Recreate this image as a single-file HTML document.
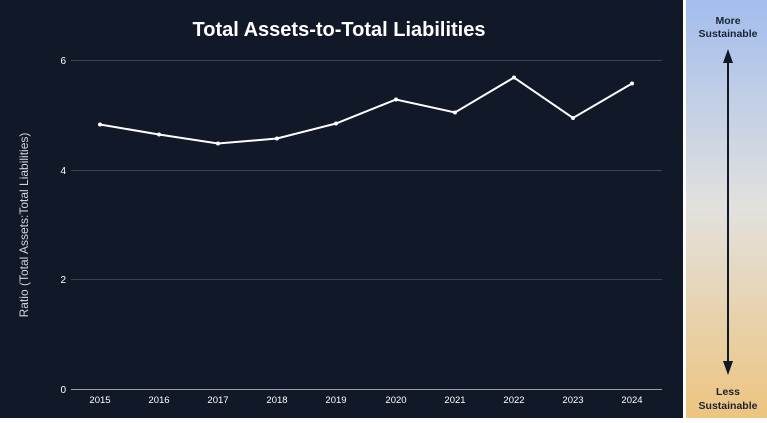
<!DOCTYPE html>
<html><head><style>
body{margin:0;width:767px;height:418px;overflow:hidden;background:#fff;font-family:"Liberation Sans",sans-serif}
</style></head><body>
<svg width="767" height="418" viewBox="0 0 767 418" xmlns="http://www.w3.org/2000/svg">
<defs><linearGradient id="g" x1="0" y1="0" x2="0" y2="1">
<stop offset="0" stop-color="#a3bdee"/><stop offset="0.5" stop-color="#e2e1dd"/><stop offset="1" stop-color="#edc47f"/></linearGradient></defs>
<rect x="0" y="0" width="683" height="418" fill="#111827"/>
<rect x="686" y="0" width="81" height="418" fill="url(#g)"/>
<text x="339" y="36" fill="#fff" font-size="20" font-weight="bold" text-anchor="middle">Total Assets-to-Total Liabilities</text>
<g stroke="#3b4250" stroke-width="1">
<line x1="71" y1="60.5" x2="662" y2="60.5"/><line x1="71" y1="170.5" x2="662" y2="170.5"/><line x1="71" y1="279.5" x2="662" y2="279.5"/></g>
<line x1="71" y1="389.5" x2="662" y2="389.5" stroke="#9aa0aa"/>
<g fill="#fff" font-size="10" text-anchor="end"><text x="66" y="64">6</text><text x="66" y="174">4</text><text x="66" y="283">2</text><text x="66" y="393">0</text></g>
<g fill="#fff" font-size="9.5" text-anchor="middle">
<text x="100" y="403">2015</text><text x="159" y="403">2016</text><text x="218" y="403">2017</text><text x="277" y="403">2018</text><text x="336" y="403">2019</text><text x="396" y="403">2020</text><text x="455" y="403">2021</text><text x="514" y="403">2022</text><text x="573" y="403">2023</text><text x="632" y="403">2024</text></g>
<text transform="translate(28,225) rotate(-90)" fill="#cfd3da" font-size="12" text-anchor="middle">Ratio (Total Assets:Total Liabilities)</text>
<polyline fill="none" stroke="#fff" stroke-width="2" points="100,124.5 159,134.5 218,143.5 277,138.5 336,123.5 396,99.5 455,112.5 514,77.5 573,118 632,83.5"/>
<g fill="#fff"><circle cx="100" cy="124.5" r="2"/><circle cx="159" cy="134.5" r="2"/><circle cx="218" cy="143.5" r="2"/><circle cx="277" cy="138.5" r="2"/><circle cx="336" cy="123.5" r="2"/><circle cx="396" cy="99.5" r="2"/><circle cx="455" cy="112.5" r="2"/><circle cx="514" cy="77.5" r="2"/><circle cx="573" cy="118" r="2"/><circle cx="632" cy="83.5" r="2"/></g>
<g fill="#1a2233" font-size="10.5" font-weight="bold" text-anchor="middle">
<text x="728" y="24">More</text><text x="728" y="37">Sustainable</text>
<text x="728" y="395">Less</text><text x="728" y="409">Sustainable</text></g>
<line x1="728" y1="60" x2="728" y2="366" stroke="#111827" stroke-width="2"/>
<polygon points="728,49 723,63 733,63" fill="#111827"/>
<polygon points="728,375 723,361 733,361" fill="#111827"/>
</svg>
</body></html>
